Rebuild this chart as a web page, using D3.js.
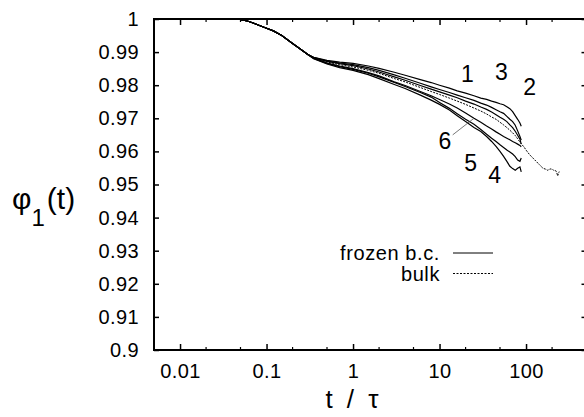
<!DOCTYPE html>
<html>
<head>
<meta charset="utf-8">
<script src="https://cdn.jsdelivr.net/npm/d3@7"></script>
<style>
  body { margin: 0; background: #fff; }
  svg { display: block; }
  text { font-family: "Liberation Sans", Arial, Helvetica, sans-serif; fill: #000; }
</style>
</head>
<body>
<div id="chart"></div>
<script>
// shared early part (all curves coincide)
const tEarly = [0.05, 0.06, 0.07, 0.08, 0.1, 0.12, 0.15, 0.2, 0.25, 0.3];
const phiEarly = [0.9998, 0.9994, 0.9988, 0.9982, 0.9972, 0.9964, 0.9950, 0.9926, 0.9908, 0.9893];

// late part, one array per curve
const tLate = [0.35, 0.5, 0.7, 1, 1.5, 2, 3, 4, 6, 8, 10, 13, 16, 20, 25, 30, 35, 40, 45, 50, 55, 60, 65, 70, 75, 80, 85, 88];
const phi1 = [0.9884, 0.9875, 0.9870, 0.9866, 0.9858, 0.9851, 0.9839, 0.9830, 0.9817, 0.9808, 0.9800, 0.9791, 0.9783, 0.9776, 0.9768, 0.9761, 0.9757, 0.9752, 0.9748, 0.9744, 0.9741, 0.9735, 0.9729, 0.9720, 0.9708, 0.9697, 0.9686, 0.9676];
const phi2 = [0.9884, 0.9873, 0.9867, 0.9862, 0.9853, 0.9845, 0.9831, 0.9821, 0.9806, 0.9795, 0.9787, 0.9778, 0.9770, 0.9762, 0.9754, 0.9746, 0.9740, 0.9733, 0.9726, 0.9720, 0.9715, 0.9706, 0.9697, 0.9690, 0.9679, 0.9662, 0.9645, 0.9634];
const phi3 = [0.9883, 0.9872, 0.9865, 0.9859, 0.9849, 0.9840, 0.9825, 0.9815, 0.9799, 0.9788, 0.9780, 0.9770, 0.9762, 0.9752, 0.9743, 0.9734, 0.9727, 0.9719, 0.9711, 0.9703, 0.9697, 0.9690, 0.9680, 0.9672, 0.9661, 0.9649, 0.9637, 0.9622];
const phi4 = [0.9880, 0.9864, 0.9853, 0.9845, 0.9832, 0.9820, 0.9802, 0.9790, 0.9770, 0.9755, 0.9742, 0.9725, 0.9708, 0.9690, 0.9672, 0.9660, 0.9645, 0.9630, 0.9615, 0.9600, 0.9585, 0.9570, 0.9555, 0.9548, 0.9543, 0.9549, 0.9553, 0.9538];
const phi5 = [0.9881, 0.9866, 0.9856, 0.9848, 0.9836, 0.9825, 0.9808, 0.9796, 0.9778, 0.9764, 0.9748, 0.9730, 0.9714, 0.9697, 0.9682, 0.9666, 0.9652, 0.9640, 0.9630, 0.9620, 0.9612, 0.9604, 0.9598, 0.9592, 0.9584, 0.9574, 0.9570, 0.9580];
const phi6 = [0.9882, 0.9867, 0.9858, 0.9850, 0.9838, 0.9828, 0.9810, 0.9799, 0.9781, 0.9768, 0.9757, 0.9743, 0.9731, 0.9716, 0.9700, 0.9688, 0.9677, 0.9668, 0.9659, 0.9652, 0.9645, 0.9640, 0.9635, 0.9630, 0.9626, 0.9622, 0.9618, 0.9614];
const phiBulk = [0.9883, 0.9870, 0.9862, 0.9855, 0.9845, 0.9836, 0.9820, 0.9810, 0.9793, 0.9781, 0.9772, 0.9761, 0.9752, 0.9742, 0.9731, 0.9722, 0.9713, 0.9704, 0.9697, 0.9688, 0.9680, 0.9672, 0.9664, 0.9656, 0.9648, 0.9638, 0.9628, 0.9623];
// bulk runs on further
const tBulkTail = [95, 100, 110, 120, 132, 145, 157, 170, 178, 190, 203, 212, 220, 226, 232, 237, 242];
const phiBulkTail = [0.9613, 0.9604, 0.9590, 0.9580, 0.9569, 0.9558, 0.9549, 0.9546, 0.9543, 0.9547, 0.9546, 0.9541, 0.9542, 0.9537, 0.9526, 0.9533, 0.9539];

// axis ticks
const yTicks = [0.9, 0.91, 0.92, 0.93, 0.94, 0.95, 0.96, 0.97, 0.98, 0.99, 1];
const yTickLabels = ["0.9", "0.91", "0.92", "0.93", "0.94", "0.95", "0.96", "0.97", "0.98", "0.99", "1"];
const xTicks = [0.01, 0.1, 1, 10, 100];
const xTickLabels = ["0.01", "0.1", "1", "10", "100"];
const xMinorTicks = [0.02, 0.05, 0.2, 0.5, 2, 5, 20, 50, 200];

// curve number labels (data coords)
const curveLabels = ["1", "3", "2", "6", "5", "4"];
const labelT = [21, 52, 110, 11.5, 22.9, 43.4];
const labelPhi = [0.9835, 0.9841, 0.9796, 0.9631, 0.9565, 0.9529];

const width = 584, height = 417;
const mLeft = 154, mTop = 19, mRight = 586.5, mBottom = 350;

const svg = d3.select("#chart").append("svg")
    .attr("width", width)
    .attr("height", height);

const x = d3.scaleLog().domain([0.005, 500]).range([mLeft, mRight]);
const y = d3.scaleLinear().domain([0.9, 1]).range([mBottom, mTop]);

svg.append("defs").append("clipPath").attr("id", "plot")
    .append("rect").attr("x", mLeft).attr("y", mTop)
    .attr("width", mRight - mLeft).attr("height", mBottom - mTop);

// ticks (inward, mirrored)
svg.append("g").attr("transform", `translate(${mLeft},0)`)
    .call(d3.axisLeft(y).tickValues(yTicks).tickSize(-5).tickSizeOuter(0)
        .tickPadding(15).tickFormat((d, i) => yTickLabels[i]))
    .call(g => g.select(".domain").remove())
    .call(g => g.selectAll("line").attr("stroke", "#000").attr("stroke-width", 1.5))
    .call(g => g.selectAll("text").attr("font-size", 20).attr("letter-spacing", 0.4)
        .attr("font-family", "Liberation Sans, Arial"));

svg.append("g").attr("transform", `translate(${mRight},0)`)
    .call(d3.axisRight(y).tickValues(yTicks).tickSize(-5).tickSizeOuter(0).tickFormat(""))
    .call(g => g.select(".domain").remove())
    .call(g => g.selectAll("line").attr("stroke", "#000").attr("stroke-width", 1.5));

svg.append("g").attr("transform", `translate(0,${mBottom})`)
    .call(d3.axisBottom(x).tickValues(xTicks).tickSize(-6).tickSizeOuter(0)
        .tickPadding(14).tickFormat((d, i) => xTickLabels[i]))
    .call(g => g.select(".domain").remove())
    .call(g => g.selectAll("line").attr("stroke", "#000").attr("stroke-width", 1.5))
    .call(g => g.selectAll("text").attr("font-size", 20).attr("letter-spacing", 0.4)
        .attr("font-family", "Liberation Sans, Arial"));

svg.append("g").attr("transform", `translate(0,${mTop})`)
    .call(d3.axisTop(x).tickValues(xTicks).tickSize(-6).tickSizeOuter(0).tickFormat(""))
    .call(g => g.select(".domain").remove())
    .call(g => g.selectAll("line").attr("stroke", "#000").attr("stroke-width", 1.5));

// minor ticks
[[mBottom, -3], [mTop, 3]].forEach(([yy, len]) => {
    svg.append("g").selectAll("line").data(xMinorTicks).enter().append("line")
        .attr("x1", d => x(d)).attr("x2", d => x(d))
        .attr("y1", yy).attr("y2", yy + len)
        .attr("stroke", "#000").attr("stroke-width", 1.2);
});

// frame
svg.append("rect")
    .attr("x", mLeft).attr("y", mTop)
    .attr("width", mRight - mLeft).attr("height", mBottom - mTop)
    .attr("fill", "none").attr("stroke", "#000").attr("stroke-width", 2);

// curves
const early = tEarly.map((t, i) => [t, phiEarly[i]]);
const late = arr => tLate.map((t, i) => [t, arr[i]]);
const frozen = [phi1, phi2, phi3, phi4, phi5, phi6].map(a => early.concat(late(a)));
const bulk = early.concat(late(phiBulk), tBulkTail.map((t, i) => [t, phiBulkTail[i]]));

const line = d3.line().x(d => x(d[0])).y(d => y(d[1]));

const curves = svg.append("g").attr("clip-path", "url(#plot)");
curves.selectAll("path.frozen").data(frozen).enter().append("path")
    .attr("class", "frozen")
    .attr("d", line)
    .attr("fill", "none").attr("stroke", "#000").attr("stroke-width", 1.2);
curves.append("path")
    .attr("d", line(bulk))
    .attr("fill", "none").attr("stroke", "#000").attr("stroke-width", 1)
    .attr("stroke-dasharray", "2,1.2");

// leader line from "6" to its curve
svg.append("line")
    .attr("x1", x(14.2)).attr("y1", y(0.9650))
    .attr("x2", x(tLate[14])).attr("y2", y(phi6[14]))
    .attr("stroke", "#555").attr("stroke-width", 0.8);

svg.append("g").selectAll("text").data(curveLabels).enter().append("text")
    .attr("x", (d, i) => x(labelT[i]))
    .attr("y", (d, i) => y(labelPhi[i]))
    .attr("dy", "0.36em")
    .attr("text-anchor", "middle")
    .attr("font-size", 23)
    .text(d => d);

// legend
const legend = [["frozen b.c.", null], ["bulk", "2,1.5"]];
legend.forEach(([name, dash], i) => {
    const ly = 253 + i * 20.5;
    svg.append("text").attr("x", 440).attr("y", ly).attr("dy", "0.36em")
        .attr("text-anchor", "end").attr("font-size", 20).attr("letter-spacing", 0.6)
        .text(name);
    svg.append("line").attr("x1", 453).attr("x2", 493).attr("y1", ly).attr("y2", ly)
        .attr("stroke", "#000").attr("stroke-width", 1)
        .attr("stroke-dasharray", dash);
});

// axis titles
const yl = svg.append("text").attr("x", 12).attr("y", 209).attr("font-size", 30);
yl.append("tspan").text("φ");
yl.append("tspan").attr("font-size", 24).attr("dy", 17).text("1");
yl.append("tspan").attr("dy", -17).attr("dx", 2).text("(t)");

svg.append("text").attr("x", 352).attr("y", 408)
    .attr("text-anchor", "middle").attr("font-size", 26)
    .style("word-spacing", "7px")
    .text("t / τ");
</script>
</body>
</html>
